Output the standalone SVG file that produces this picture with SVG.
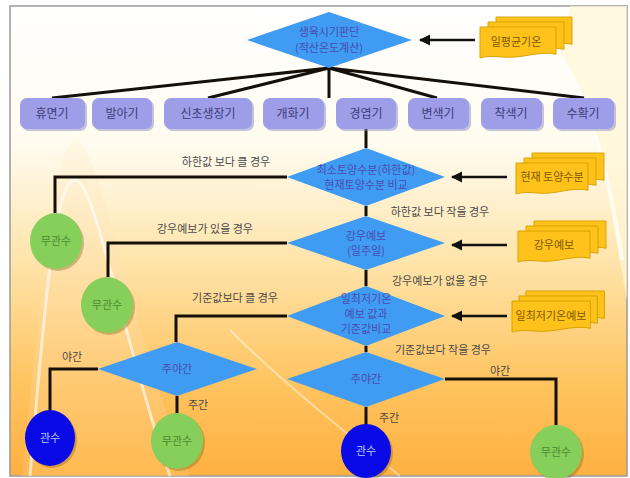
<svg xmlns="http://www.w3.org/2000/svg" width="630" height="478" viewBox="0 0 630 478">
  <defs>
    <linearGradient id="bg" x1="0" y1="0" x2="0" y2="1">
      <stop offset="0" stop-color="#ffffff"/>
      <stop offset="0.3" stop-color="#fffbee"/>
      <stop offset="0.55" stop-color="#ffe3a8"/>
      <stop offset="0.8" stop-color="#ffc460"/>
      <stop offset="1" stop-color="#ffb040"/>
    </linearGradient>
    <linearGradient id="hill" x1="0" y1="0" x2="0" y2="1">
      <stop offset="0" stop-color="#fff4dc"/>
      <stop offset="1" stop-color="#ffc060"/>
    </linearGradient>
    <marker id="arrow" viewBox="0 0 10 10" refX="9" refY="5" markerWidth="4.5" markerHeight="4.5" orient="auto">
      <path d="M0,0 L10,5 L0,10 z" fill="#111"/>
    </marker>
    <!-- one sheet of the stacked-document shape, 80 x 32 -->
    <path id="sheet" d="M0,0 H80 V29 C62,25 44,34 24,32 C14,31 6,31 0,33 Z"/>
    <style>
      .conn { fill: none; stroke: #141008; stroke-width: 3; }
      .arrowline { fill: none; stroke: #111; stroke-width: 2.5; marker-end: url(#arrow); }
      .diamond { fill: #3f9cf2; }
      .dtext { font-family: "Noto Sans CJK KR", "Noto Sans", sans-serif; font-size: 11px; fill: #4a4ab4; text-anchor: middle; }
      .stage rect.box { fill: #9e9ee8; }
      .stage rect.shadow { fill: #8a8ac8; opacity: 0.5; }
      .stext { font-family: "Noto Sans CJK KR", "Noto Sans", sans-serif; font-size: 12px; fill: #3c3c7a; text-anchor: middle; }
      .label { font-family: "Noto Sans CJK KR", "Noto Sans", sans-serif; font-size: 11px; fill: #4a4a4a; text-anchor: middle; }
      .doc use { fill: #ffc21a; stroke: #d4a000; stroke-width: 1; }
      .doctext { font-family: "Noto Sans CJK KR", "Noto Sans", sans-serif; font-size: 11px; fill: #7a5800; text-anchor: middle; }
      .green ellipse.fill { fill: #86cf5a; }
      .blue ellipse.fill { fill: #0a0ae6; }
      ellipse.shadow { fill: #7a5a10; opacity: 0.35; }
      .gtext { font-family: "Noto Sans CJK KR", "Noto Sans", sans-serif; font-size: 11px; fill: #4e8a2e; text-anchor: middle; }
      .btext { font-family: "Noto Sans CJK KR", "Noto Sans", sans-serif; font-size: 11px; fill: #b8c8ff; text-anchor: middle; }
    </style>
  </defs>

  <!-- background panel -->
  <rect x="0" y="0" width="630" height="478" fill="#ffffff"/>
  <rect x="10" y="6" width="617" height="470" fill="url(#bg)" stroke="#9a9a9a" stroke-width="1.5"/>
  <!-- decorative swooshes -->
  <path d="M22,476 C40,300 55,140 75,140 C100,140 130,330 190,476 Z" fill="url(#hill)" opacity="0.55"/>
  <path d="M30,476 C45,300 55,180 75,180 C95,180 120,330 170,476" fill="none" stroke="#ffffff" stroke-width="3" opacity="0.6"/>
  <path d="M560,55 C600,120 612,220 627,300 L627,6 L570,6 Z" fill="#fff6d6" opacity="0.7"/>
  <path d="M560,55 C590,100 610,180 622,260" fill="none" stroke="#ffffff" stroke-width="4" opacity="0.7"/>
  <path d="M230,330 C280,380 330,420 400,476" fill="none" stroke="#ffffff" stroke-width="2" opacity="0.45"/>

  <!-- connectors -->
  <g id="connectors">
    <path class="conn" d="M329,68 L52,98 M329,68 L208,98 M329,68 L329,98 M329,68 L437,98 M329,68 L584,98"/>
    <path class="conn" d="M366,129 V148"/>
    <path class="conn" d="M287,177 H55 V213"/>
    <path class="conn" d="M366,206 V216"/>
    <path class="conn" d="M287,243 H108 V277"/>
    <path class="conn" d="M366,270 V286"/>
    <path class="conn" d="M287,316 H176 V342"/>
    <path class="conn" d="M366,346 V352"/>
    <path class="conn" d="M98,369 H50 V410"/>
    <path class="conn" d="M177,396 V414"/>
    <path class="conn" d="M366,407 V425"/>
    <path class="conn" d="M445,379 H556 V425"/>
    <path class="arrowline" d="M475,40 H420"/>
    <path class="arrowline" d="M507,177 H452"/>
    <path class="arrowline" d="M507,245 H452"/>
    <path class="arrowline" d="M507,316 H452"/>
  </g>

  <!-- edge labels -->
  <g id="labels">
    <text class="label" x="226" y="166">하한값 보다 클 경우</text>
    <text class="label" x="440" y="216">하한값 보다 작을 경우</text>
    <text class="label" x="205" y="233">강우예보가 있을 경우</text>
    <text class="label" x="440" y="285">강우예보가 없을 경우</text>
    <text class="label" x="235" y="302">기준값보다 클 경우</text>
    <text class="label" x="443" y="354">기준값보다 작을 경우</text>
    <text class="label" x="72" y="361">야간</text>
    <text class="label" x="198" y="409">주간</text>
    <text class="label" x="389" y="422">주간</text>
    <text class="label" x="500" y="375">야간</text>
  </g>

  <!-- decision: growth stage -->
  <g id="growth-stage">
    <polygon class="diamond" points="247,40 329,12 412,40 329,68"/>
    <text class="dtext" x="329" y="36">생육시기판단</text>
    <text class="dtext" x="329" y="52">(적산온도계산)</text>
  </g>

  <!-- input: daily mean temperature -->
  <g id="doc-temp" class="doc">
    <use href="#sheet" transform="translate(496,17) scale(0.95,0.94)"/>
    <use href="#sheet" transform="translate(488,22) scale(0.95,0.94)"/>
    <use href="#sheet" transform="translate(480,27) scale(0.95,0.94)"/>
    <text class="doctext" x="516" y="46">일평균기온</text>
  </g>

  <!-- growth stages -->
  <g id="stage-1" class="stage"><rect class="shadow" x="22" y="100" width="65" height="31" rx="7"/><rect class="box" x="20" y="98" width="65" height="31" rx="7"/><text class="stext" x="52" y="118">휴면기</text></g>
  <g id="stage-2" class="stage"><rect class="shadow" x="94" y="100" width="60" height="31" rx="7"/><rect class="box" x="92" y="98" width="60" height="31" rx="7"/><text class="stext" x="122" y="118">발아기</text></g>
  <g id="stage-3" class="stage"><rect class="shadow" x="166" y="100" width="88" height="31" rx="7"/><rect class="box" x="164" y="98" width="88" height="31" rx="7"/><text class="stext" x="208" y="118">신초생장기</text></g>
  <g id="stage-4" class="stage"><rect class="shadow" x="265" y="100" width="61" height="31" rx="7"/><rect class="box" x="263" y="98" width="61" height="31" rx="7"/><text class="stext" x="293" y="118">개화기</text></g>
  <g id="stage-5" class="stage"><rect class="shadow" x="338" y="100" width="60" height="31" rx="7"/><rect class="box" x="336" y="98" width="60" height="31" rx="7"/><text class="stext" x="366" y="118">경엽기</text></g>
  <g id="stage-6" class="stage"><rect class="shadow" x="410" y="100" width="61" height="31" rx="7"/><rect class="box" x="408" y="98" width="61" height="31" rx="7"/><text class="stext" x="438" y="118">변색기</text></g>
  <g id="stage-7" class="stage"><rect class="shadow" x="483" y="100" width="61" height="31" rx="7"/><rect class="box" x="481" y="98" width="61" height="31" rx="7"/><text class="stext" x="511" y="118">착색기</text></g>
  <g id="stage-8" class="stage"><rect class="shadow" x="555" y="100" width="61" height="31" rx="7"/><rect class="box" x="553" y="98" width="61" height="31" rx="7"/><text class="stext" x="583" y="118">수확기</text></g>

  <!-- decision: soil moisture -->
  <g id="soil-check">
    <polygon class="diamond" points="287,177 366,148 445,177 366,206"/>
    <text class="dtext" x="366" y="174">최소토양수분(하한값)</text>
    <text class="dtext" x="366" y="189">현재토양수분 비교</text>
  </g>
  <g id="doc-soil" class="doc">
    <use href="#sheet" transform="translate(532,153) scale(0.9,0.94)"/>
    <use href="#sheet" transform="translate(524,158) scale(0.9,0.94)"/>
    <use href="#sheet" transform="translate(516,163) scale(0.9,0.94)"/>
    <text class="doctext" x="552" y="181">현재 토양수분</text>
  </g>
  <g id="no-irrigation-1" class="green">
    <ellipse class="shadow" cx="58" cy="243" rx="26" ry="28"/>
    <ellipse class="fill" cx="56" cy="241" rx="26" ry="28"/>
    <text class="gtext" x="56" y="245">무관수</text>
  </g>

  <!-- decision: rain forecast -->
  <g id="rain-check">
    <polygon class="diamond" points="287,243 366,216 445,243 366,270"/>
    <text class="dtext" x="366" y="240">강우예보</text>
    <text class="dtext" x="366" y="255">(일주일)</text>
  </g>
  <g id="doc-rain" class="doc">
    <use href="#sheet" transform="translate(534,221) scale(0.9,0.94)"/>
    <use href="#sheet" transform="translate(526,226) scale(0.9,0.94)"/>
    <use href="#sheet" transform="translate(518,231) scale(0.9,0.94)"/>
    <text class="doctext" x="554" y="249">강우예보</text>
  </g>
  <g id="no-irrigation-2" class="green">
    <ellipse class="shadow" cx="109" cy="307" rx="26" ry="28"/>
    <ellipse class="fill" cx="107" cy="305" rx="26" ry="28"/>
    <text class="gtext" x="107" y="309">무관수</text>
  </g>

  <!-- decision: minimum temperature -->
  <g id="temp-check">
    <polygon class="diamond" points="287,316 366,286 445,316 366,346"/>
    <text class="dtext" x="366" y="303">일최저기온</text>
    <text class="dtext" x="366" y="318">예보 값과</text>
    <text class="dtext" x="366" y="333">기준값비교</text>
  </g>
  <g id="doc-mintemp" class="doc">
    <use href="#sheet" transform="translate(526,291) scale(0.98,0.94)"/>
    <use href="#sheet" transform="translate(519,296) scale(0.98,0.94)"/>
    <use href="#sheet" transform="translate(512,301) scale(0.98,0.94)"/>
    <text class="doctext" x="551" y="320">일최저기온예보</text>
  </g>

  <!-- day / night decisions -->
  <g id="daynight-left">
    <polygon class="diamond" points="98,369 177,342 257,369 177,396"/>
    <text class="dtext" x="177" y="373">주야간</text>
  </g>
  <g id="daynight-right">
    <polygon class="diamond" points="287,379 366,352 445,379 366,407"/>
    <text class="dtext" x="366" y="383">주야간</text>
  </g>

  <!-- outcomes -->
  <g id="irrigation-left" class="blue">
    <ellipse class="shadow" cx="52" cy="440" rx="25" ry="28"/>
    <ellipse class="fill" cx="50" cy="438" rx="25" ry="28"/>
    <text class="btext" x="50" y="442">관수</text>
  </g>
  <g id="no-irrigation-3" class="green">
    <ellipse class="shadow" cx="179" cy="443" rx="26" ry="28"/>
    <ellipse class="fill" cx="177" cy="441" rx="26" ry="28"/>
    <text class="gtext" x="177" y="445">무관수</text>
  </g>
  <g id="irrigation-right" class="blue">
    <ellipse class="shadow" cx="368" cy="453" rx="25" ry="27"/>
    <ellipse class="fill" cx="366" cy="451" rx="25" ry="27"/>
    <text class="btext" x="366" y="455">관수</text>
  </g>
  <g id="no-irrigation-4" class="green">
    <ellipse class="shadow" cx="558" cy="454" rx="26" ry="27"/>
    <ellipse class="fill" cx="556" cy="452" rx="26" ry="27"/>
    <text class="gtext" x="556" y="456">무관수</text>
  </g>
</svg>
